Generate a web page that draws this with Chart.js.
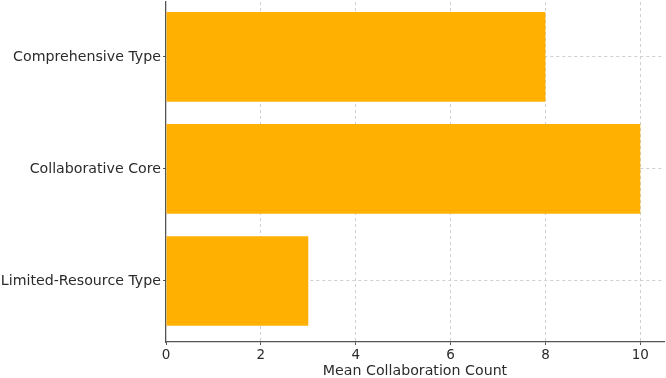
<!DOCTYPE html>
<html>
<head>
<meta charset="utf-8">
<script src="https://cdn.jsdelivr.net/npm/chart.js@4/dist/chart.umd.min.js"></script>
<style>
  html, body { margin: 0; padding: 0; background: #fff; }
  #wrap { width: 666px; height: 378px; }
</style>
</head>
<body>
<div id="wrap"><canvas id="chart"></canvas></div>
<script>
const categories = ["Comprehensive Type", "Collaborative Core", "Limited-Resource Type"];
const collabCounts = [8, 10, 3];
const xTicks = [0, 2, 4, 6, 8, 10];

const barColor = "#ffb000";
const gridColor = "#cfcfcf";
const axisColor = "#555555";
const textColor = "#2b2b2b";

Chart.defaults.font.family = "'DejaVu Sans', sans-serif";
Chart.defaults.font.size = 14;
Chart.defaults.color = textColor;

// bars sit on a numeric y axis so the band spacing matches the reference
const points = categories.map((name, i) => ({ x: collabCounts[i], y: i }));

new Chart(document.getElementById("chart"), {
  type: "bar",
  data: {
    datasets: [{
      data: points,
      backgroundColor: barColor,
      borderWidth: 0,
      barPercentage: 0.8,
      categoryPercentage: 1.0,
    }],
  },
  options: {
    indexAxis: "y",
    responsive: true,
    maintainAspectRatio: false,
    animation: false,
    layout: { padding: { top: 2, right: 2, left: 0, bottom: 0 } },
    plugins: { legend: { display: false }, tooltip: { enabled: false } },
    scales: {
      x: {
        type: "linear",
        min: 0,
        max: 10.5,
        afterBuildTicks: (axis) => { axis.ticks = xTicks.map((v) => ({ value: v })); },
        afterFit: (axis) => {
          axis.height = 36;
          axis.paddingLeft = 0;
          axis.paddingRight = 0;
        },
        grid: {
          // the zero line would paint over the left spine
          color: (ctx) => (ctx.tick && ctx.tick.value === 0 ? "rgba(0,0,0,0)" : gridColor),
          tickColor: axisColor,
          tickLength: 3,
          tickBorderDash: [],
        },
        border: { display: true, color: axisColor, width: 1.3, dash: [3, 3] },
        ticks: { padding: 2, color: textColor, font: { size: 13.5 } },
        title: {
          display: true,
          text: "Mean Collaboration Count",
          color: textColor,
          font: { size: 14.2 },
          padding: { top: 0, bottom: -2 },
        },
      },
      y: {
        type: "linear",
        reverse: true,
        offset: false,
        min: -0.49,
        max: 2.545,
        afterBuildTicks: (axis) => { axis.ticks = categories.map((c, i) => ({ value: i })); },
        afterFit: (axis) => {
          axis.width = 166;
          axis.paddingTop = 0;
          axis.paddingBottom = 0;
        },
        grid: {
          offset: false,
          color: gridColor,
          tickColor: axisColor,
          tickLength: 3,
          tickBorderDash: [],
        },
        border: { display: true, color: axisColor, width: 1.3, dash: [3, 3] },
        ticks: {
          padding: 2,
          color: textColor,
          font: { size: 14.2 },
          callback: (value) => categories[value],
        },
      },
    },
  },
});
</script>
</body>
</html>
